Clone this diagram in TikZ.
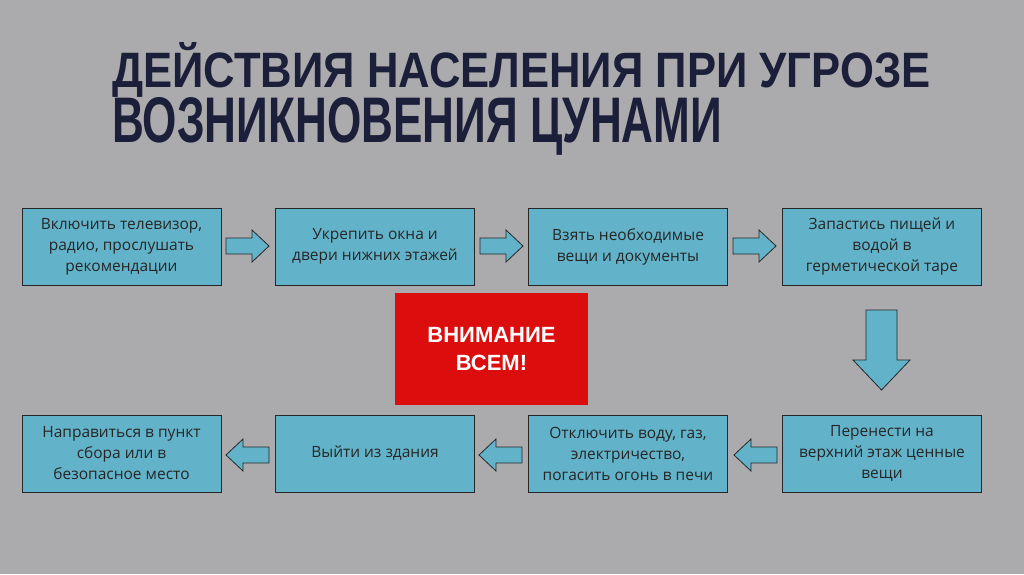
\documentclass[tikz,border=0pt]{standalone}
\usepackage{fontspec}
\setmainfont{Open Sans}
\newfontfamily\titlefont{Liberation Sans}
\begin{document}
\begin{tikzpicture}[x=1pt,y=-1pt,
  box/.style={draw=black!85,line width=0.8pt,fill=boxc,minimum width=199pt,minimum height=77pt,align=center,font=\fontsize{15.5}{21}\selectfont,text=black!85,inner sep=2pt},
  arr/.style={draw=black!85,line width=0.8pt,fill=boxc}]
\definecolor{boxc}{HTML}{62B3C9}
\definecolor{bg}{HTML}{ABABAD}
\definecolor{titlec}{HTML}{1C1F3A}
\fill[bg] (0,0) rectangle (1024,574);
\useasboundingbox (0,0) rectangle (1024,574);
\node[anchor=base west,text=titlec,inner sep=0] (t1) at (112,87) {\resizebox{818pt}{45pt}{\titlefont\bfseries ДЕЙСТВИЯ НАСЕЛЕНИЯ ПРИ УГРОЗЕ}};
\node[anchor=base west,text=titlec,inner sep=0] (t2) at (112,142) {\resizebox{610pt}{45pt}{\titlefont\bfseries ВОЗНИКНОВЕНИЯ ЦУНАМИ}};
\node[box] (a1) at (121.5,246.5) {Включить телевизор,\\радио, прослушать\\рекомендации};
\node[box] (a2) at (375,246.5) {Укрепить окна и\\двери нижних этажей};
\node[box] (a3) at (628,246.5) {Взять необходимые\\вещи и документы};
\node[box] (a4) at (882,246.5) {Запастись пищей и\\водой в\\герметической таре};
\node[box] (b4) at (882,453.5) {Перенести на\\верхний этаж ценные\\вещи};
\node[box] (b3) at (628,453.5) {Отключить воду, газ,\\электричество,\\погасить огонь в печи};
\node[box] (b2) at (375,453.5) {Выйти из здания};
\node[box] (b1) at (121.5,453.5) {Направиться в пункт\\сбора или в\\безопасное место};
\node[fill=red!85!black!95,minimum width=193pt,minimum height=112pt,text=white,align=center,font=\fontsize{22}{28}\selectfont\titlefont\bfseries] (w) at (491.5,349) {ВНИМАНИЕ\\ВСЕМ!};
\foreach \x in {226,480,733}{
  \draw[arr] (\x,238)--(\x+26,238)--(\x+26,230)--(\x+43,246)--(\x+26,262)--(\x+26,254)--(\x,254)--cycle;}
\foreach \x in {269,522,777}{
  \draw[arr] (\x,447)--(\x-26,447)--(\x-26,439)--(\x-43,455)--(\x-26,471)--(\x-26,463)--(\x,463)--cycle;}
\draw[arr] (866,310)--(897,310)--(897,360)--(910,360)--(881.5,390)--(853,360)--(866,360)--cycle;
\end{tikzpicture}
\end{document}
